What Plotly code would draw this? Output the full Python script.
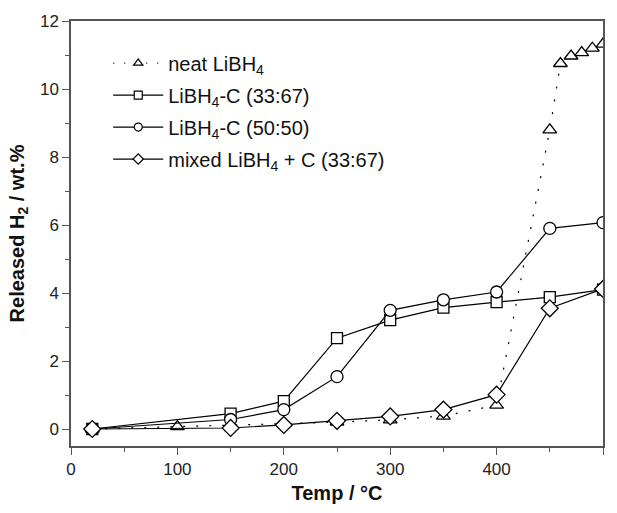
import plotly.graph_objects as go

# ---- data ----
temp_neat = [20, 100, 250, 300, 350, 400, 450, 460, 470, 480, 490, 500]
h2_neat = [0.0, 0.07, 0.2, 0.27, 0.38, 0.7, 8.8, 10.75, 10.97, 11.07, 11.2, 11.32]

temp_c = [20, 150, 200, 250, 300, 350, 400, 450, 500]
h2_c3367 = [0.0, 0.45, 0.82, 2.67, 3.2, 3.57, 3.73, 3.88, 4.1]
h2_c5050 = [0.0, 0.28, 0.57, 1.54, 3.49, 3.8, 4.03, 5.9, 6.07]
h2_mixed = [0.0, 0.03, 0.12, 0.24, 0.37, 0.57, 1.01, 3.55, 4.12]

names = ["neat LiBH<sub>4</sub>", "LiBH<sub>4</sub>-C (33:67)",
         "LiBH<sub>4</sub>-C (50:50)", "mixed LiBH<sub>4</sub> + C (33:67)"]

x_ticks = [0, 100, 200, 300, 400, 500]
y_ticks = [0, 2, 4, 6, 8, 10, 12]

series = [
    (temp_neat, h2_neat, "triangle-up", "2px,11px", 12),
    (temp_c, h2_c3367, "square", "solid", 11),
    (temp_c, h2_c5050, "circle", "solid", 12),
    (temp_c, h2_mixed, "diamond", "solid", 13),
]

fig = go.Figure()
for (xs, ys, sym, dash, sz) in series:
    fig.add_trace(go.Scatter(
        x=xs, y=ys, mode="lines+markers", showlegend=False,
        line=dict(color="black", width=1.2, dash=dash),
        marker=dict(symbol=sym, size=sz, color="white",
                    line=dict(color="black", width=1.3)),
    ))

for i, ((xs, ys, sym, dash, sz), nm) in enumerate(zip(series, names)):
    fig.add_trace(go.Scatter(
        x=[None], y=[None], mode="lines+markers", name=nm, legendgroup=f"g{i}",
        line=dict(color="black", width=1.2, dash=("1px,10px" if dash != "solid" else "solid")),
        marker=dict(symbol=sym, size=8, color="white",
                    line=dict(color="black", width=1.2)),
    ))

axis_common = dict(
    showline=True, linecolor="#555", linewidth=1.5, mirror=True,
    ticks="outside", ticklen=7, tickwidth=1.2, tickcolor="#555",
    showgrid=False, zeroline=False,
    tickfont=dict(size=17, color="#222"),
)

fig.update_xaxes(range=[0, 500], tickvals=x_ticks,
                 minor=dict(ticks="outside", ticklen=4, tickwidth=1, tickcolor="#555", dtick=50, tick0=0),
                 title=dict(text="<b>Temp / °C</b>", font=dict(size=20, color="#111"), standoff=8),
                 **axis_common)
fig.update_yaxes(range=[-0.5, 12], tickvals=y_ticks,
                 minor=dict(ticks="outside", ticklen=4, tickwidth=1, tickcolor="#555", dtick=1, tick0=0),
                 title=dict(text="<b>Released H<sub>2</sub> / wt.%</b>", font=dict(size=20, color="#111"), standoff=10),
                 **axis_common)

fig.update_layout(
    width=617, height=513,
    margin=dict(l=71, r=12, t=21, b=60),
    paper_bgcolor="white", plot_bgcolor="white",
    font=dict(family="Liberation Sans, Arial, sans-serif", color="#111"),
    legend=dict(x=0.07, y=0.947, xanchor="left", yanchor="top",
                bgcolor="rgba(0,0,0,0)", font=dict(size=20, color="#111"),
                itemwidth=50, tracegroupgap=3),
)

fig.write_html("out.html")
